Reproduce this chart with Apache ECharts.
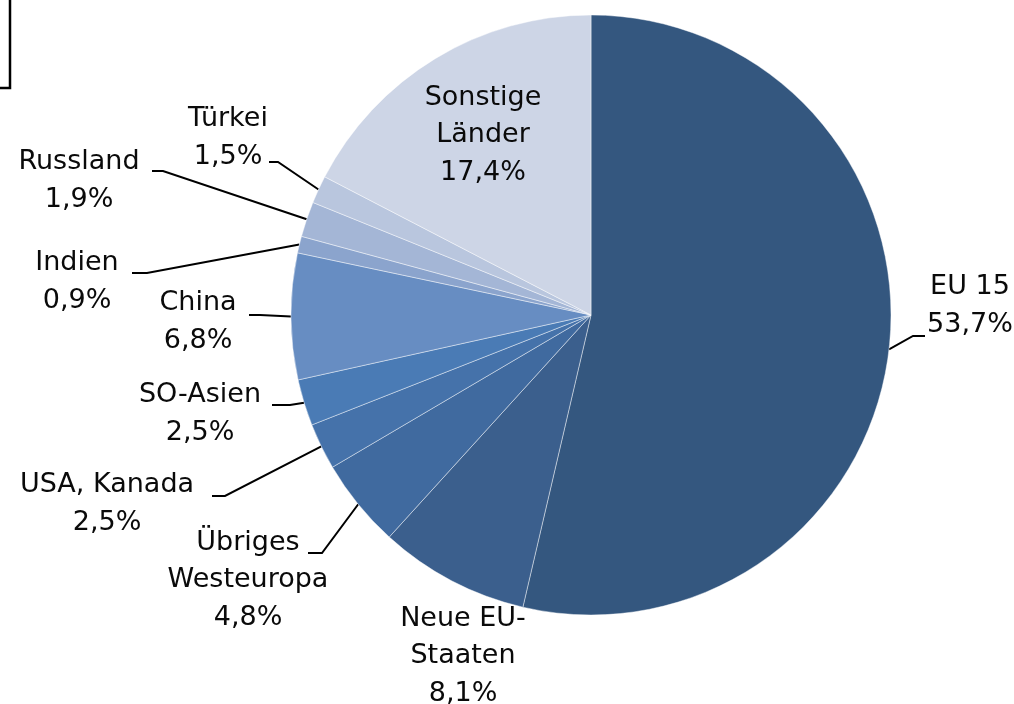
<!DOCTYPE html>
<html>
<head>
<meta charset="utf-8">
<script src="https://cdn.jsdelivr.net/npm/echarts@6/dist/echarts.min.js"></script>
<style>
    html, body { margin: 0; padding: 0; background: #fff; }
    #chart { width: 1014px; height: 704px; }
</style>
</head>
<body>
<div id="chart"></div>
<script>
// shares of exports by region, clockwise from 12 o'clock
var regions = ['EU 15', 'Neue EU-\nStaaten', 'Übriges\nWesteuropa', 'USA, Kanada', 'SO-Asien',
    'China', 'Indien', 'Russland', 'Türkei', 'Sonstige\nLänder'];
var shares = [53.7, 8.1, 4.8, 2.5, 2.5, 6.8, 0.9, 1.9, 1.5, 17.4];
var sliceColors = ['#34577f', '#3b5f8d', '#406a9f', '#4572aa', '#4a7bb5',
    '#678dc2', '#8ba4cd', '#a4b6d6', '#b9c6de', '#cdd5e6'];

// label placement (centre of text block) and leader line bend/end
var labelPos = [[970, 306], [463, 656], [248, 580], [107, 504], [200, 414],
    [198, 322], [77, 282], [79, 181], [228, 138], [483, 135]];
var leaderBends = [
    [[913, 336], [925, 336]], null, [[322, 553], [308, 553]], [[225, 496], [212, 496]],
    [[290, 405], [272, 405]], [[260, 315], [249, 315]], [[147, 273], [132, 273]],
    [[163, 171], [152, 171]], [[278, 162], [269, 162]], null
];

function pct(v) {
    return v.toFixed(1).replace('.', ',') + '%';
}

var myChart = echarts.init(document.getElementById('chart'), null, {renderer: 'canvas'});

var pieData = regions.map(function (name, i) {
    return {
        name: name,
        value: shares[i],
        itemStyle: {color: sliceColors[i]},
        labelLine: {show: leaderBends[i] !== null}
    };
});

var option = {
    animation: false,
    graphic: [{
            type: 'rect',
            shape: {x: -6, y: -6, width: 16, height: 94},
            style: {fill: 'none', stroke: '#000', lineWidth: 2.5}
        }],
    series: [{
            type: 'pie',
            center: [591, 315],
            radius: 300,
            startAngle: 90,
            clockwise: true,
            avoidLabelOverlap: false,
            silent: true,
            itemStyle: {
                borderColor: 'rgba(255,255,255,0.55)',
                borderWidth: 0.8
            },
            label: {
                show: true,
                position: 'outside',
                formatter: function (p) {
                    return p.name + '\n' + pct(p.value);
                },
                fontFamily: 'DejaVu Sans',
                fontSize: 27,
                lineHeight: 37.5,
                color: '#0a0a0a'
            },
            labelLine: {
                lineStyle: {color: '#000', width: 2}
            },
            labelLayout: function (params) {
                var i = params.dataIndex;
                var out = {
                    x: labelPos[i][0],
                    y: labelPos[i][1],
                    align: 'center',
                    verticalAlign: 'middle'
                };
                if (leaderBends[i] && params.labelLinePoints) {
                    out.labelLinePoints = [params.labelLinePoints[0], leaderBends[i][0], leaderBends[i][1]];
                }
                return out;
            },
            data: pieData
        }]
};

myChart.setOption(option);
</script>
</body>
</html>
